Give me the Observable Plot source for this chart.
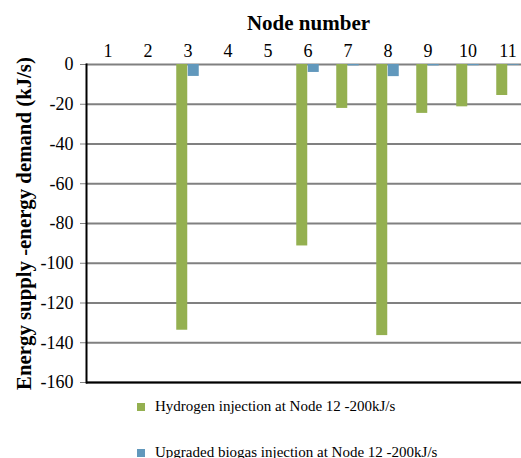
<!DOCTYPE html>
<html>
<head>
<meta charset="utf-8">
<script src="https://cdn.jsdelivr.net/npm/d3@7"></script>
<script src="https://cdn.jsdelivr.net/npm/@observablehq/plot@0.6"></script>
<style>
  html, body { margin: 0; padding: 0; background: #fff; overflow: hidden; }
  #chart { position: relative; width: 521px; height: 458px; font-family: "Liberation Serif", serif; }
  .legend { position: absolute; left: 137px; font-size: 15px; color: #000; display: flex; align-items: center; white-space: nowrap; font-family: "Liberation Serif", serif; }
  .legend .sw { width: 8px; height: 8px; margin-right: 10px; display: inline-block; }
</style>
</head>
<body>
<div id="chart"></div>
<script>
const nodes = [1, 2, 3, 4, 5, 6, 7, 8, 9, 10, 11];
const hydrogen = [0, 0, -133.7, 0, 0, -91.3, -22.1, -136.4, -24.6, -21.3, -15.6];
const biogas = [0, 0, -6.0, 0, 0, -4.0, -0.7, -6.1, -0.7, -0.6, -0.4];
const yTicks = [0, -20, -40, -60, -80, -100, -120, -140, -160];
const seriesNames = ["Hydrogen injection at Node 12 -200kJ/s", "Upgraded biogas injection at Node 12 -200kJ/s"];
const colors = ["#94b050", "#6198bc"];

const hData = nodes.map((n, i) => ({node: n, value: hydrogen[i]}));
const bData = nodes.map((n, i) => ({node: n, value: biogas[i]}));

const plot = Plot.plot({
  width: 521,
  height: 392,
  marginLeft: 86,
  marginRight: -9,
  marginTop: 64,
  marginBottom: 10,
  style: {fontFamily: "'Liberation Serif', serif", fontSize: "18px", color: "#000", background: "#fff"},
  x: {type: "band", domain: nodes, paddingInner: 0.715, paddingOuter: 0.3575},
  y: {domain: [-160, 0]},
  marks: [
    Plot.gridY(yTicks, {stroke: "#808080", strokeOpacity: 1, strokeWidth: 2}),
    Plot.barY(hData, {x: "node", y: "value", fill: colors[0], dx: -5.75}),
    Plot.barY(bData, {x: "node", y: "value", fill: colors[1], dx: 5.75}),
    Plot.axisX({anchor: "top", tickSize: 0, tickPadding: 8, fontSize: 18, label: "Node number", labelAnchor: "center", labelOffset: 49, labelArrow: false}),
    Plot.axisY(yTicks, {anchor: "left", tickSize: 6, tickPadding: 7, stroke: "#808080", fontSize: 18, tickFormat: d => String(d), label: "Energy supply -energy demand (kJ/s)", labelAnchor: "center", labelOffset: 70, labelArrow: false}),
    Plot.ruleY([-160], {stroke: "#000", strokeWidth: 2}),
    Plot.frame({anchor: "left", stroke: "#000", strokeWidth: 2})
  ]
});
const chart = document.getElementById("chart");
chart.appendChild(plot);

d3.select(plot).selectAll("text")
  .style("font-family", "'Liberation Serif', serif")
  .style("font-variant-numeric", "normal")
  .style("font-variant", "normal");
d3.select(plot).selectAll('g[aria-label="x-axis label"] text')
  .style("font-weight", "bold").style("font-size", "21px");
d3.select(plot).selectAll('g[aria-label="y-axis label"] text')
  .style("font-weight", "bold").style("font-size", "20.8px");

const tops = [398, 444];
seriesNames.forEach((name, i) => {
  const d = document.createElement("div");
  d.className = "legend";
  d.style.top = tops[i] + "px";
  const sw = document.createElement("span");
  sw.className = "sw";
  sw.style.background = colors[i];
  d.appendChild(sw);
  d.appendChild(document.createTextNode(name));
  chart.appendChild(d);
});
</script>
</body>
</html>
